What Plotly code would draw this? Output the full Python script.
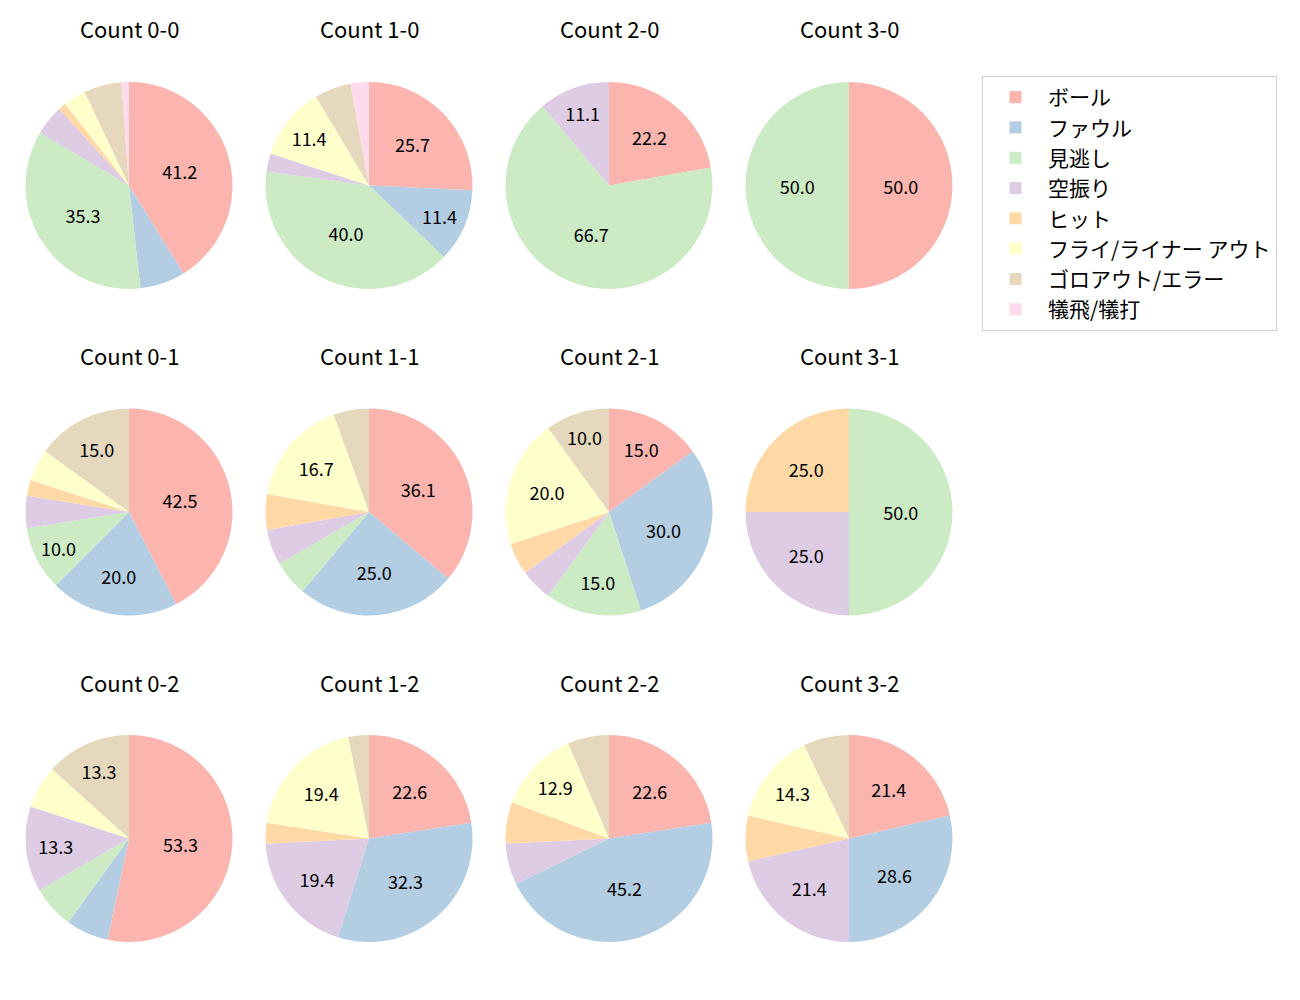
import plotly.graph_objects as go

FONT = "Noto Sans CJK JP"

labels = ["ボール", "ファウル", "見逃し", "空振り", "ヒット",
          "フライ/ライナー アウト", "ゴロアウト/エラー", "犠飛/犠打"]
colors = ["#fbb4ae", "#b3cde3", "#ccebc5", "#decbe4",
          "#fed9a6", "#ffffcc", "#e5d8bd", "#fddaec"]

# counts per category, in label order
count_0_0 = [35, 6, 30, 4, 1, 3, 5, 1]
count_1_0 = [9, 4, 14, 1, 0, 4, 2, 1]
count_2_0 = [2, 0, 6, 1, 0, 0, 0, 0]
count_3_0 = [1, 0, 1, 0, 0, 0, 0, 0]
count_0_1 = [17, 8, 4, 2, 1, 2, 6, 0]
count_1_1 = [13, 9, 2, 2, 2, 6, 2, 0]
count_2_1 = [3, 6, 3, 1, 1, 4, 2, 0]
count_3_1 = [0, 0, 2, 1, 1, 0, 0, 0]
count_0_2 = [8, 1, 1, 2, 0, 1, 2, 0]
count_1_2 = [7, 10, 0, 6, 1, 6, 1, 0]
count_2_2 = [7, 14, 0, 2, 2, 4, 2, 0]
count_3_2 = [3, 4, 0, 3, 1, 2, 1, 0]

panels = [
    ("Count 0-0", count_0_0), ("Count 1-0", count_1_0),
    ("Count 2-0", count_2_0), ("Count 3-0", count_3_0),
    ("Count 0-1", count_0_1), ("Count 1-1", count_1_1),
    ("Count 2-1", count_2_1), ("Count 3-1", count_3_1),
    ("Count 0-2", count_0_2), ("Count 1-2", count_1_2),
    ("Count 2-2", count_2_2), ("Count 3-2", count_3_2),
]

W, H = 1300, 1000
col_cx = [129, 369, 609, 849]
row_cy = [185.5, 512, 838.5]
title_y = [28, 355, 682]
R = 103.5

fig = go.Figure()
annotations = []
for i, (title, vals) in enumerate(panels):
    r, c = divmod(i, 4)
    cx, cy = col_cx[c], row_cy[r]
    total = sum(vals)
    # matplotlib-style autopct: only slices of 10% or more get a label
    text = [f"{v / total * 100:.1f}" if v / total >= 0.1 else "" for v in vals]
    fig.add_trace(go.Pie(
        labels=labels, values=vals, text=text,
        textinfo="text", textposition="inside",
        insidetextorientation="horizontal",
        textfont=dict(size=18, color="#000000", family=FONT),
        marker=dict(colors=colors, line=dict(width=0)),
        sort=False, direction="clockwise", rotation=0,
        domain=dict(x=[(cx - R) / W, (cx + R) / W],
                    y=[1 - (cy + R) / H, 1 - (cy - R) / H]),
        showlegend=(i == 0),
        hoverinfo="label+value+percent",
    ))
    annotations.append(dict(
        text=title, x=cx / W, y=1 - title_y[r] / H,
        xref="paper", yref="paper", xanchor="center", yanchor="middle",
        showarrow=False, font=dict(size=22, color="#000000", family=FONT),
    ))

fig.update_layout(
    width=W, height=H,
    margin=dict(l=0, r=0, t=0, b=0),
    paper_bgcolor="white", plot_bgcolor="white",
    font=dict(family=FONT, color="#000000"),
    annotations=annotations,
    legend=dict(
        x=982 / W, y=1 - 76 / H, xanchor="left", yanchor="top",
        bordercolor="#d0d0d0", borderwidth=1, bgcolor="white",
        font=dict(size=21, family=FONT),
        itemwidth=55,
    ),
)

fig.write_html("out.html", config={"displayModeBar": False},
               post_script="document.body.style.margin='0';")
